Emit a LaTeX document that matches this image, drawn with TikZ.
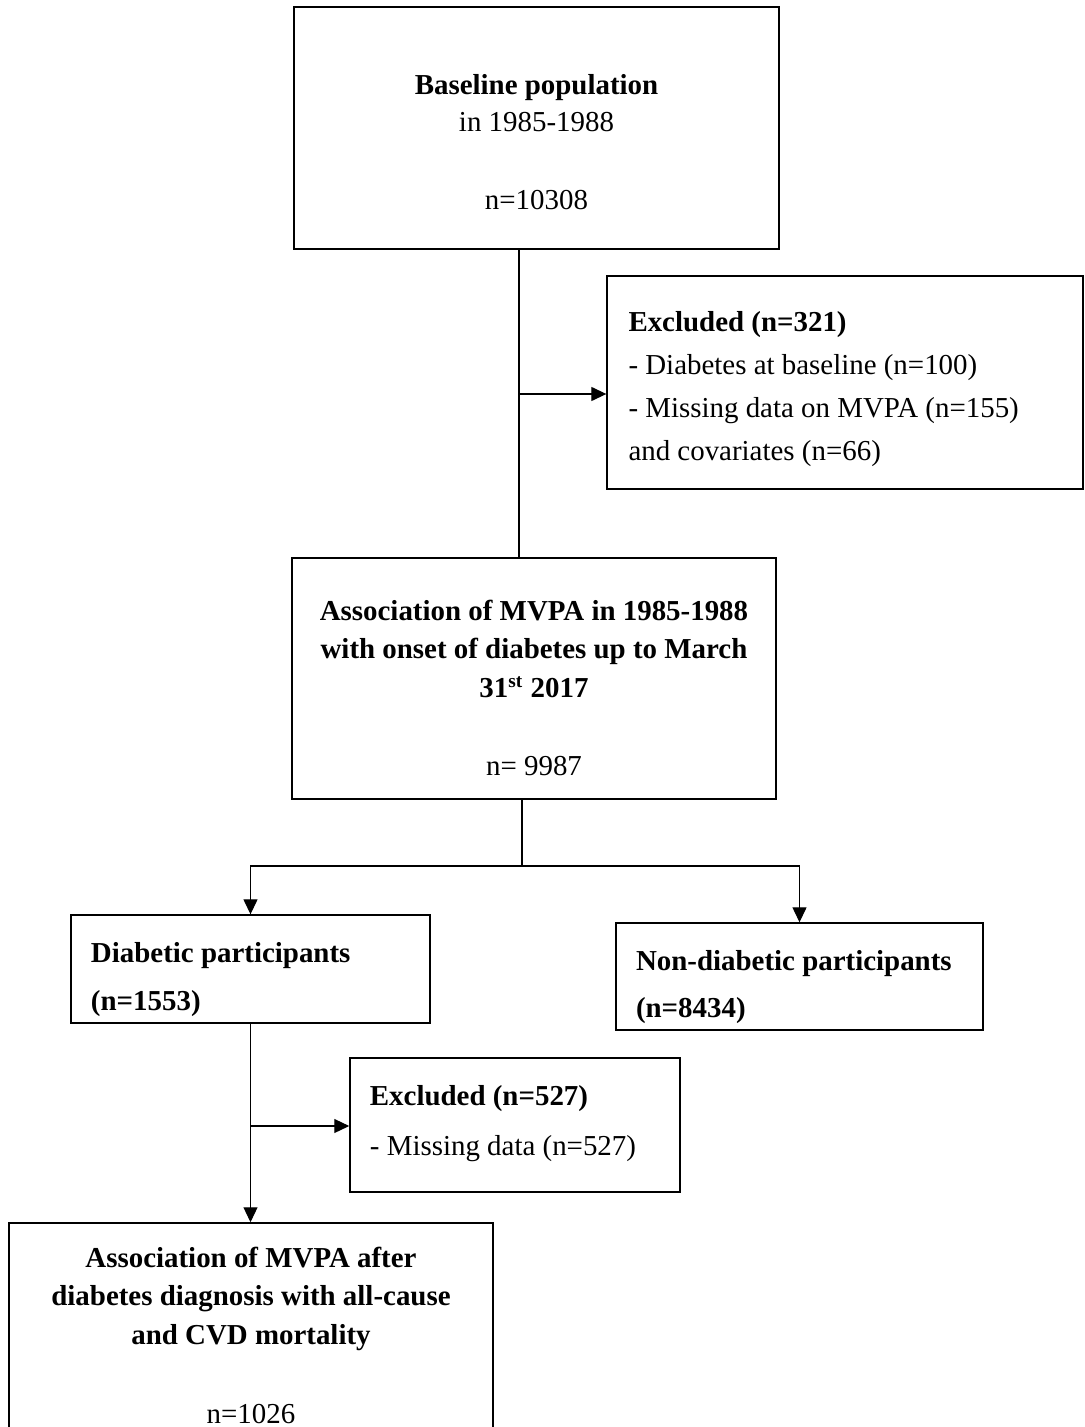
\documentclass[tikz,border=0pt]{standalone}
\usepackage{fontspec}
\setmainfont{Liberation Serif}
\usetikzlibrary{arrows.meta, positioning}

\begin{document}
\begin{tikzpicture}[x=0.415pt, y=-0.415pt,
  mainbox/.style={draw, line width=0.6pt, align=center, inner sep=0pt,
    font=\fontsize{12}{15.4}\selectfont},
  sidebox/.style={draw, line width=0.6pt, align=flush left, inner xsep=8.3pt,
    inner ysep=0pt, font=\fontsize{12}{15.4}\selectfont},
  ln/.style={line width=0.5pt},
  arw/.style={-{Triangle[length=6.2pt, width=5.8pt]}, line width=0.5pt},
]
\useasboundingbox (0,0) rectangle (1084,1427);

% boxes
\node[mainbox, minimum width=201.3pt, text height=84.2pt, text depth=16.2pt] (base) at (536.5,128)
  {\textbf{Baseline population}\\ in 1985-1988\\[17pt] n=10308};

\node[sidebox, text width=179.7pt, inner xsep=8.9pt, text height=23.2pt, text depth=65.2pt] (excl1) at (845,382.5)
  {\textbf{Excluded (n=321)}\\[2.4pt]
   - Diabetes at baseline (n=100)\\[2.4pt]
   - Missing data on MVPA (n=155)\\[2.4pt]
   and covariates (n=66)};

\node[mainbox, minimum width=200.9pt, text height=90.1pt, text depth=10pt] (assoc) at (534,678.5)
  {\textbf{Association of MVPA in 1985-1988}\\[0.4pt]
   \textbf{with onset of diabetes up to March}\\[0.8pt]
   \textbf{31\textsuperscript{st} 2017}\\[16.6pt]
   n= 9987};

\node[sidebox, text width=132.4pt, text height=19.9pt, text depth=24.9pt] (diab) at (250.5,969)
  {\textbf{Diabetic participants}\\[4.4pt] \textbf{(n=1553)}};

\node[sidebox, text width=135.7pt, text height=19.5pt, text depth=24.9pt] (nondiab) at (799.5,976.5)
  {\textbf{Non-diabetic participants}\\[4.4pt] \textbf{(n=8434)}};

\node[sidebox, text width=120.4pt, text height=19.5pt, text depth=36.1pt] (excl2) at (515,1125)
  {\textbf{Excluded (n=527)}\\[5.4pt] - Missing data (n=527)};

\node[mainbox, minimum width=200.9pt, text height=83.4pt, text depth=6.7pt] (mort) at (251,1331.5)
  {\textbf{Association of MVPA after}\\[0.4pt]
   \textbf{diabetes diagnosis with all-cause}\\[0.8pt]
   \textbf{and CVD mortality}\\[17.4pt]
   n=1026};

% junctions
\coordinate (j1) at (519,394);
\coordinate (split) at (522,866);
\coordinate (j2) at (251,1126);

% connectors
\draw[ln] (base.south -| j1) -- (assoc.north -| j1);
\draw[arw] (j1) -- (j1 -| excl1.west);
\draw[ln] (assoc.south -| split) -- (split);
\draw[arw] (split) -| (diab.north);
\draw[arw] (split) -| (nondiab.north);
\draw[arw] (diab.south) -- (diab.south |- mort.north);
\draw[arw] (j2) -- (j2 -| excl2.west);
\end{tikzpicture}
\end{document}
